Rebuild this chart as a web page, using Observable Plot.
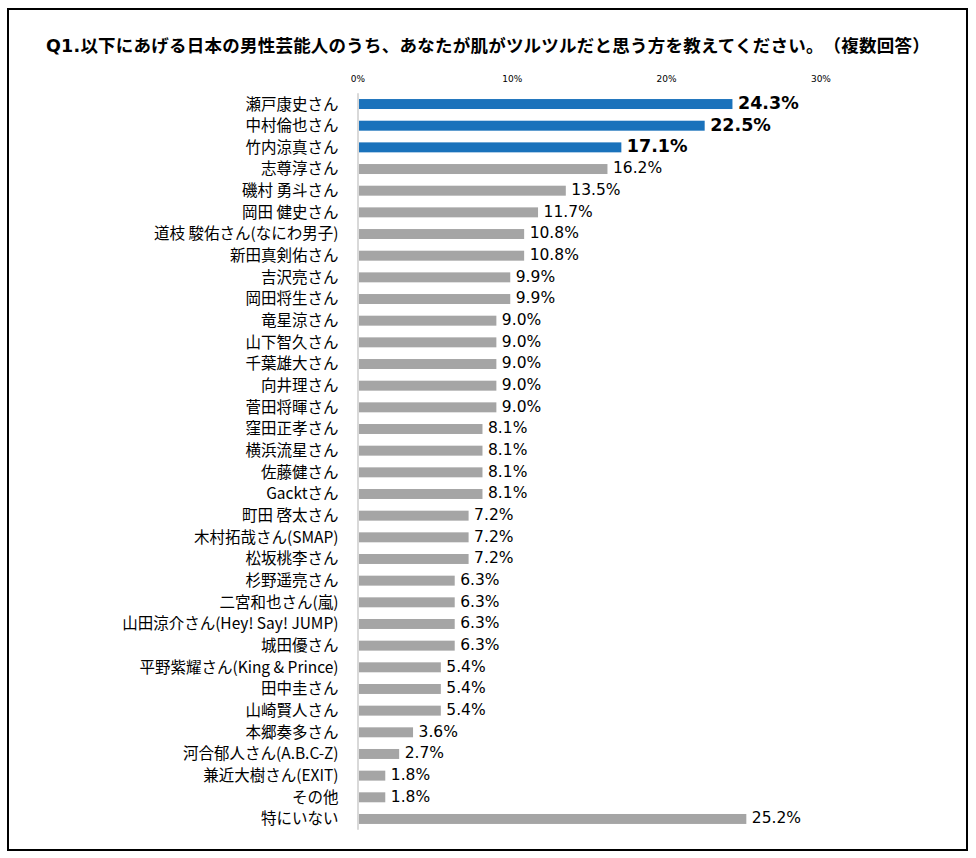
<!DOCTYPE html>
<html>
<head>
<meta charset="utf-8">
<script src="https://cdn.jsdelivr.net/npm/d3@7"></script>
<script src="https://cdn.jsdelivr.net/npm/@observablehq/plot@0.6"></script>
<style>
  html, body { margin: 0; padding: 0; background: #fff; }
  #wrap { position: relative; width: 976px; height: 858px; overflow: hidden; background: #fff; }
  #frame { position: absolute; left: 7px; top: 8px; width: 957px; height: 839px; border: 2px solid #000; box-sizing: content-box; }
  #title { position: absolute; left: 0; top: 33px; width: 976px; text-align: center; white-space: nowrap;
           font-family: "Noto Sans CJK JP", sans-serif; font-weight: 700; font-size: 17.5px; color: #000; line-height: 24px;
           text-spacing-trim: space-all; font-feature-settings: "halt" 0, "palt" 0, "chws" 0; }
  #title .lat { font-family: "DejaVu Sans", sans-serif; }
  #titleText { display: inline-block; }
  #chart { position: absolute; left: 0; top: 60px; }
</style>
</head>
<body>
<div id="wrap">
  <div id="frame"></div>
  <div id="title"><span id="titleText"><span class="lat">Q1.</span>以下にあげる日本の男性芸能人のうち、あなたが肌がツルツルだと思う方を教えてください。（複数回答）</span></div>
  <div id="chart"></div>
</div>
<script>
const names = [
  "瀬戸康史さん","中村倫也さん","竹内涼真さん","志尊淳さん","磯村 勇斗さん","岡田 健史さん",
  "道枝 駿佑さん(なにわ男子)","新田真剣佑さん","吉沢亮さん","岡田将生さん","竜星涼さん","山下智久さん",
  "千葉雄大さん","向井理さん","菅田将暉さん","窪田正孝さん","横浜流星さん","佐藤健さん","Gacktさん",
  "町田 啓太さん","木村拓哉さん(SMAP)","松坂桃李さん","杉野遥亮さん","二宮和也さん(嵐)",
  "山田涼介さん(Hey! Say! JUMP)","城田優さん","平野紫耀さん(King & Prince)","田中圭さん","山崎賢人さん",
  "本郷奏多さん","河合郁人さん(A.B.C-Z)","兼近大樹さん(EXIT)","その他","特にいない"
];
const values = [
  24.3,22.5,17.1,16.2,13.5,11.7,
  10.8,10.8,9.9,9.9,9.0,9.0,
  9.0,9.0,9.0,8.1,8.1,8.1,8.1,
  7.2,7.2,7.2,6.3,6.3,
  6.3,6.3,5.4,5.4,5.4,
  3.6,2.7,1.8,1.8,25.2
];
const highlighted = ["瀬戸康史さん","中村倫也さん","竹内涼真さん"];
const xTicks = [0, 10, 20, 30];

const rows = names.map((n, i) => ({name: n, value: values[i], top: highlighted.includes(n)}));

const plot = Plot.plot({
  width: 976,
  height: 780,
  marginLeft: 357.5,
  marginRight: 155.6,
  marginTop: 33.2,
  marginBottom: 10.2,
  style: {background: "transparent", color: "#000"},
  x: {domain: [0, 30], axis: null},
  y: {domain: names, paddingInner: 0.54, paddingOuter: 0.27, round: false, axis: null},
  marks: [
    Plot.barX(rows, {x: "value", y: "name", fill: d => d.top ? "#1a72bb" : "#a5a5a5", insetLeft: 1}),
    Plot.ruleX([0], {stroke: "#d9d9d9", strokeWidth: 2}),
    Plot.axisX(xTicks, {anchor: "top", label: null, tickSize: 0, tickPadding: 12, tickFormat: d => d + "%",
      fontSize: 9, fontFamily: "DejaVu Sans, sans-serif", fill: "#000"}),
    Plot.axisY(names, {anchor: "left", label: null, tickSize: 0, tickPadding: 19.5,
      fontSize: 15.5, fontFamily: "Noto Sans CJK JP, sans-serif", fill: "#000"}),
    Plot.text(rows.filter(d => !d.top), {x: "value", y: "name", text: d => d.value.toFixed(1) + "%",
      textAnchor: "start", dx: 5, dy: -1, fontSize: 15.5, fontFamily: "DejaVu Sans, sans-serif", fill: "#000"}),
    Plot.text(rows.filter(d => d.top), {x: "value", y: "name", text: d => d.value.toFixed(1) + "%",
      textAnchor: "start", dx: 5, dy: -1, fontSize: 17.5, fontWeight: "bold", fontFamily: "DejaVu Sans, sans-serif", fill: "#000"})
  ]
});
document.getElementById("chart").appendChild(plot);

// fit title to the reference width (~884px)
function fitTitle() {
  const t = document.getElementById("titleText");
  t.style.letterSpacing = "0px";
  const w = t.getBoundingClientRect().width;
  const n = [...t.textContent].length;
  t.style.letterSpacing = ((884 - w) / n) + "px";
}
fitTitle();
if (document.fonts && document.fonts.ready) document.fonts.ready.then(fitTitle);
</script>
</body>
</html>
